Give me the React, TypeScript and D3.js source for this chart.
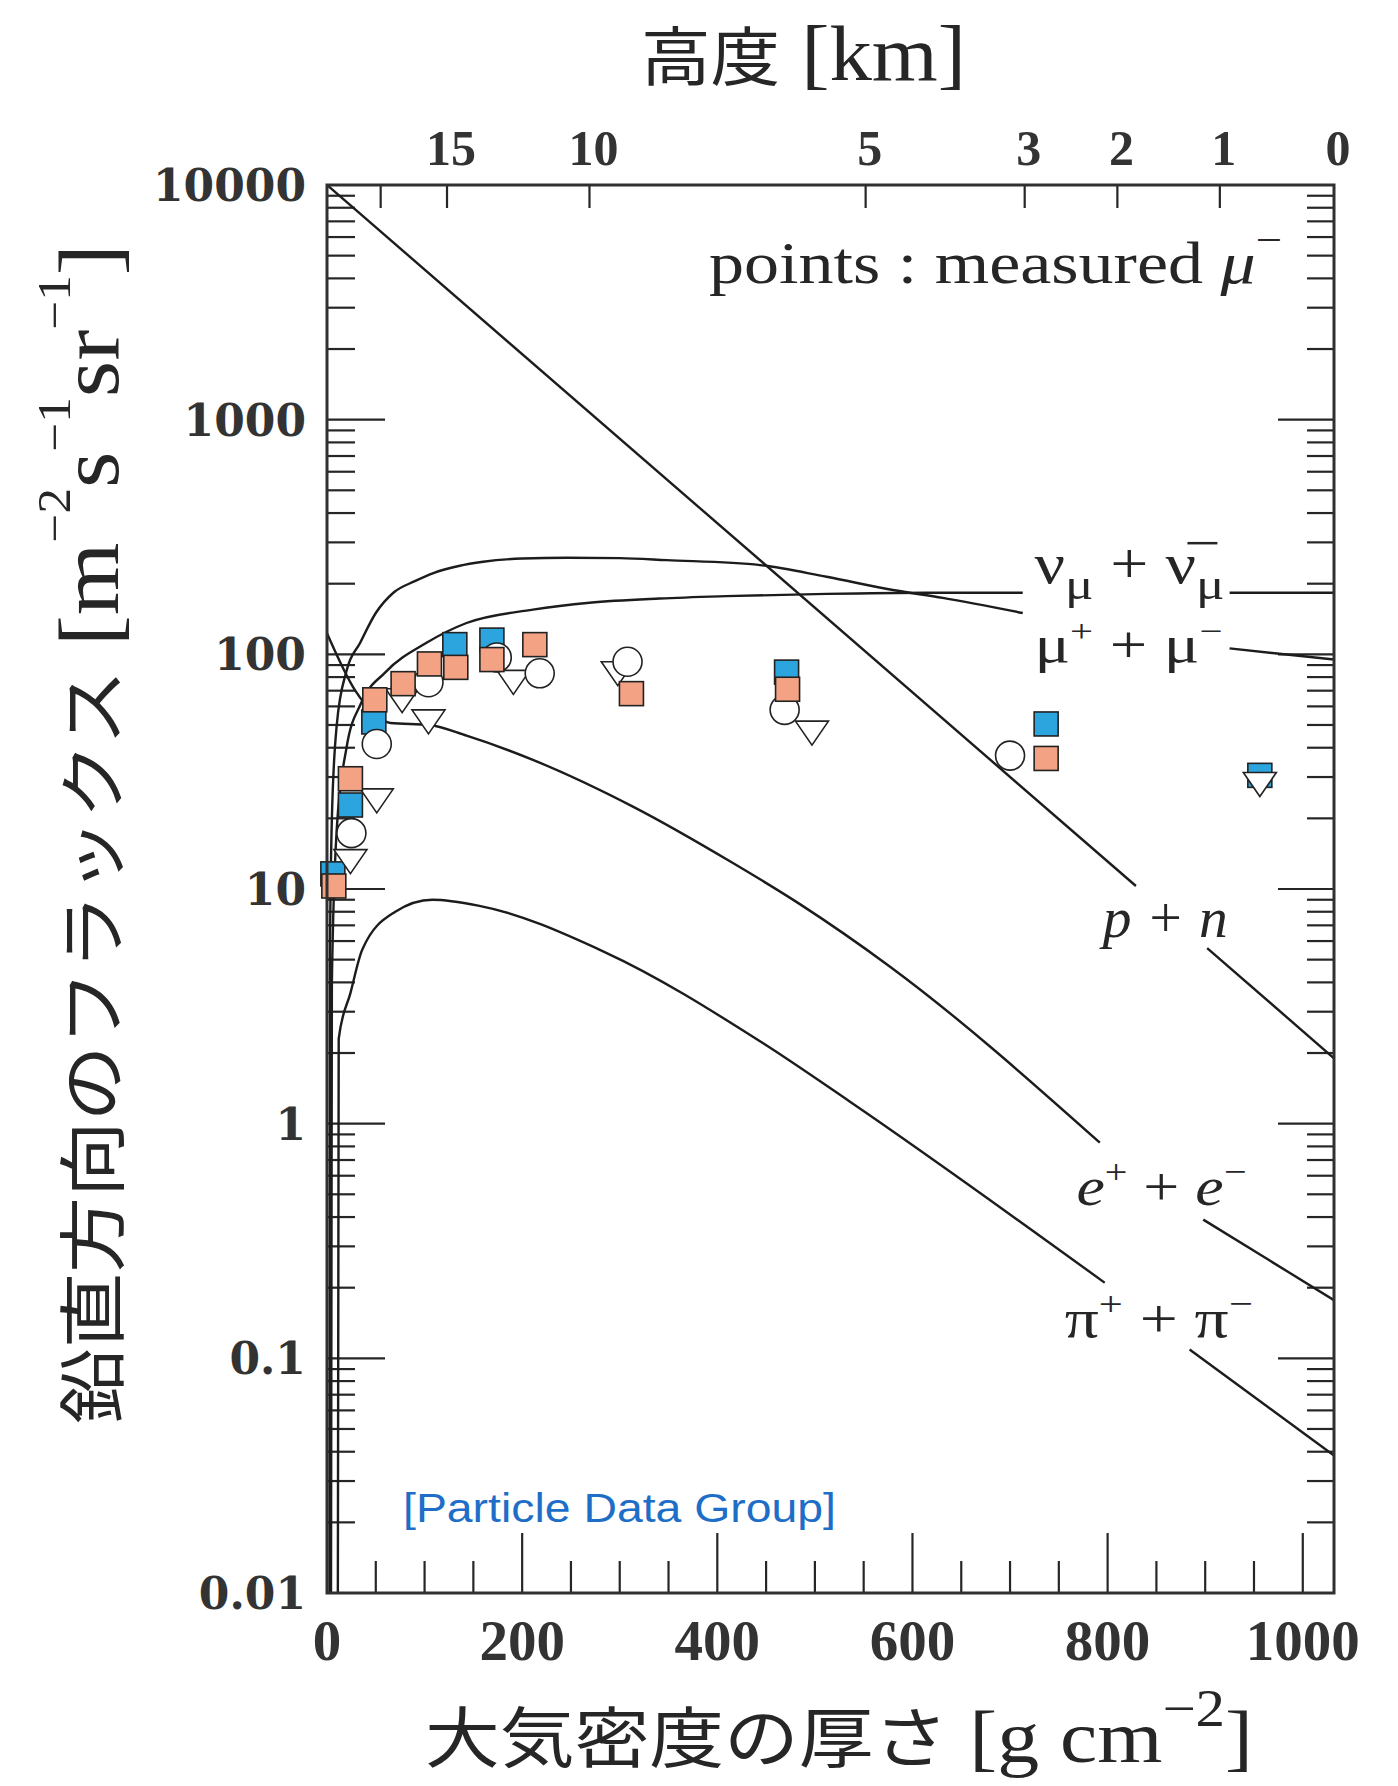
import React, { useEffect, useRef } from 'react';
import * as d3 from 'd3';

const WIDTH = 1398;
const HEIGHT = 1786;
const plot = { left: 327, right: 1334, top: 185, bottom: 1593 };

// bottom axis: atmospheric depth [g cm^-2]
const depthMax = 1032;
const depthLabels = [0, 200, 400, 600, 800, 1000];
// top axis: altitude [km] and the depth where it sits
const altitudeKm = [20, 15, 10, 5, 3, 2, 1, 0];
const altitudeDepth = [55, 123, 269, 552, 715, 810, 915, 1032];
const altitudeShown = [false, true, true, true, true, true, true, true];
// left axis: vertical flux
const fluxLabels = [0.01, 0.1, 1, 10, 100, 1000, 10000];
const fluxLabelText = ['0.01', '0.1', '1', '10', '100', '1000', '10000'];

// model curves [depth, flux], split where the label cuts the line
const nucleons = [
  [[0, 10000], [829, 10.3]],
  [[902, 5.6], [1032, 1.9]],
];
const muons = [
  [[2.5, 0.005], [3, 5], [5, 20], [10, 50], [20, 85], [34, 112], [50, 150], [68, 183], [90, 205], [109, 222], [135, 238], [160, 248], [200, 256], [246, 258], [300, 257], [348, 252], [444, 240], [512, 214], [580, 188], [631, 174], [713, 150]],
  [[925, 106], [1032, 95]],
];
const neutrinos = [
  [[4, 0.005], [5, 4], [10, 18], [20, 40], [35, 62], [60, 84], [102, 112], [143, 136], [211, 155], [269, 166], [341, 173], [409, 177], [512, 181], [614, 183], [713, 183]],
  [[925, 183], [1032, 183]],
];
const electrons = [
  [[0, 123], [29, 70], [48, 56], [65, 51], [105, 50], [143, 45], [211, 35.5], [313, 22.5], [416, 12.9], [485, 8.6], [576, 4.7], [792, 0.83]],
  [[898, 0.39], [1032, 0.177]],
];
const pions = [
  [[11, 0.005], [12, 2.3], [24, 3.6], [36, 5.5], [70, 8.0], [108, 9.0], [155, 8.5], [284, 5.4], [447, 2.2], [536, 1.24], [797, 0.21]],
  [[884, 0.109], [1032, 0.0385]],
];

// measured mu- points
const muSalmon = [[7, 10.3], [24, 29.5], [49, 64], [78, 75], [105, 91], [132, 88], [169, 95], [213, 110], [312, 68], [472, 71], [737, 36]];
const muBlue = [[6, 11.6], [24, 22.8], [48, 51.5], [131, 110], [169, 115], [471, 84], [737, 50.5], [956, 30.5]];
const muCircle = [[25, 17.3], [51, 41.5], [104, 76], [174, 97], [218, 83], [308, 93], [469, 58], [700, 37]];
const muTriangle = [[24, 13.6], [51, 24.7], [77, 66], [104, 53.6], [191, 79], [298, 86], [497, 48], [956, 29]];

const serif = '"Liberation Serif", "Times New Roman", serif';
const cjk = '"Noto Sans CJK JP", "Noto Sans", sans-serif';
const sans = '"Liberation Sans", Arial, sans-serif';
const ink = '#262626';

type Part = { t: string; size: number; dy?: number; italic?: boolean; font?: string };

// curve labels, anchored in data units
const curveLabels: { depth: number; flux: number; width: number; parts: Part[] }[] = [
  { depth: 725, flux: 201, width: 190, parts: [{ t: 'ν', size: 56 }, { t: 'μ', size: 44, dy: 16 }, { t: ' + ν', size: 56, dy: -16 }, { t: 'μ', size: 44, dy: 16 }] },
  { depth: 725, flux: 93, width: 188, parts: [{ t: 'μ', size: 52 }, { t: '+', size: 32, dy: -20 }, { t: ' + μ', size: 52, dy: 20 }, { t: '−', size: 32, dy: -20 }] },
  { depth: 795, flux: 6.25, width: 125, parts: [{ t: 'p + n', size: 58, italic: true }] },
  { depth: 768, flux: 0.451, width: 170, parts: [{ t: 'e', size: 54, italic: true }, { t: '+', size: 34, dy: -22 }, { t: ' + ', size: 54, dy: 22 }, { t: 'e', size: 54, italic: true }, { t: '−', size: 34, dy: -22 }] },
  { depth: 756, flux: 0.1236, width: 188, parts: [{ t: 'π', size: 54 }, { t: '+', size: 34, dy: -22 }, { t: ' + π', size: 54, dy: 22 }, { t: '−', size: 34, dy: -22 }] },
];

function addText(parent: any, parts: Part[], x: number, y: number, width?: number, fill = ink) {
  const t = parent.append('text').attr('x', x).attr('y', y).attr('fill', fill).attr('font-family', serif);
  if (width) t.attr('textLength', width).attr('lengthAdjust', 'spacingAndGlyphs');
  parts.forEach((p) => {
    const s = t.append('tspan').attr('font-size', p.size).text(p.t);
    if (p.dy) s.attr('dy', p.dy);
    if (p.italic) s.attr('font-style', 'italic');
    if (p.font) s.attr('font-family', p.font);
  });
  return t;
}

const App = () => {
  const svgRef = useRef<SVGSVGElement>(null);

  useEffect(() => {
    const svg = d3.select(svgRef.current);
    svg.selectAll('*').remove();

    const x = d3.scaleLinear().domain([0, depthMax]).range([plot.left, plot.right]);
    const y = d3.scaleLog().domain([0.01, 10000]).range([plot.bottom, plot.top]);

    svg.append('rect').attr('width', WIDTH).attr('height', HEIGHT).attr('fill', '#fff');
    svg.append('defs').append('clipPath').attr('id', 'plotClip')
      .append('rect')
      .attr('x', plot.left).attr('y', plot.top)
      .attr('width', plot.right - plot.left).attr('height', plot.bottom - plot.top);

    // ticks
    const ticks = svg.append('g').attr('stroke', ink).attr('stroke-width', 2.2);
    y.ticks().forEach((v) => {
      const lg = Math.log10(v);
      const major = Math.abs(lg - Math.round(lg)) < 1e-6;
      const yy = y(v);
      ticks.append('line').attr('x1', plot.left).attr('x2', plot.left + (major ? 58 : 28)).attr('y1', yy).attr('y2', yy);
      ticks.append('line').attr('x1', plot.right).attr('x2', plot.right - (major ? 56 : 27)).attr('y1', yy).attr('y2', yy);
    });
    d3.range(50, 1001, 50).forEach((d) => {
      const major = d % 200 === 0;
      ticks.append('line').attr('x1', x(d)).attr('x2', x(d))
        .attr('y1', plot.bottom).attr('y2', plot.bottom - (major ? 60 : 32));
    });
    altitudeDepth.forEach((d) => {
      if (d >= depthMax) return;
      ticks.append('line').attr('x1', x(d)).attr('x2', x(d))
        .attr('y1', plot.top).attr('y2', plot.top + 23);
    });

    // curves
    const line = d3.line<number[]>().x((d) => x(d[0])).y((d) => y(d[1])).curve(d3.curveMonotoneX);
    const curves = svg.append('g').attr('clip-path', 'url(#plotClip)')
      .attr('fill', 'none').attr('stroke', '#1c1c1c').attr('stroke-width', 2.4);
    [nucleons, muons, neutrinos, electrons, pions].forEach((curve) => {
      curve.forEach((piece) => curves.append('path').attr('d', line(piece as number[][])));
    });

    // measured points
    const pts = svg.append('g').attr('stroke', '#222').attr('stroke-width', 1.6);
    muBlue.forEach(([d, v]) => {
      pts.append('rect').attr('x', x(d) - 12).attr('y', y(v) - 12).attr('width', 24).attr('height', 24).attr('fill', '#2ca4de');
    });
    muTriangle.forEach(([d, v]) => {
      const cx = x(d), cy = y(v), w = 33, h = 24;
      pts.append('path')
        .attr('d', `M${cx - w / 2},${cy - h / 3}L${cx + w / 2},${cy - h / 3}L${cx},${cy + (2 * h) / 3}Z`)
        .attr('fill', '#fff');
    });
    muCircle.forEach(([d, v]) => {
      pts.append('circle').attr('cx', x(d)).attr('cy', y(v)).attr('r', 14.5).attr('fill', '#fff');
    });
    muSalmon.forEach(([d, v]) => {
      pts.append('rect').attr('x', x(d) - 12).attr('y', y(v) - 12).attr('width', 24).attr('height', 24).attr('fill', '#f3a283');
    });

    // frame
    svg.append('rect')
      .attr('x', plot.left).attr('y', plot.top)
      .attr('width', plot.right - plot.left).attr('height', plot.bottom - plot.top)
      .attr('fill', 'none').attr('stroke', '#303030').attr('stroke-width', 3);

    // tick labels
    fluxLabels.forEach((v, i) => {
      svg.append('text').attr('x', 306).attr('y', y(v) + 16)
        .attr('text-anchor', 'end').attr('font-family', '"DejaVu Serif", serif')
        .attr('font-weight', 'bold').attr('font-size', 44).attr('fill', '#333')
        .text(fluxLabelText[i]);
    });
    depthLabels.forEach((d) => {
      svg.append('text').attr('x', x(d)).attr('y', 1660)
        .attr('text-anchor', 'middle').attr('font-family', serif)
        .attr('font-weight', 'bold').attr('font-size', 57).attr('fill', '#333')
        .text(d);
    });
    altitudeKm.forEach((km, i) => {
      if (!altitudeShown[i]) return;
      svg.append('text').attr('x', x(altitudeDepth[i]) + 4).attr('y', 165)
        .attr('text-anchor', 'middle').attr('font-family', serif)
        .attr('font-weight', 'bold').attr('font-size', 50).attr('fill', '#333')
        .text(km);
    });

    // curve labels
    curveLabels.forEach((lab, i) => {
      const lx = x(lab.depth), ly = y(lab.flux);
      addText(svg, lab.parts, lx, ly, lab.width);
      if (i === 0) {
        // bar of the anti-neutrino
        svg.append('line').attr('x1', lx + 153).attr('x2', lx + 183)
          .attr('y1', ly - 40).attr('y2', ly - 40).attr('stroke', ink).attr('stroke-width', 2.5);
      }
    });

    addText(svg, [{ t: 'points : measured ', size: 60 }, { t: 'μ', size: 60, italic: true }, { t: '−', size: 40, dy: -30 }], 709, 283, 573);

    // titles
    addText(svg, [{ t: '高度', size: 64, font: cjk }, { t: ' [km]', size: 78 }], 641, 80, 325);
    addText(svg, [
      { t: '大気密度の厚さ', size: 66, font: cjk },
      { t: ' [g cm', size: 74 },
      { t: '−2', size: 52, dy: -36 },
      { t: ']', size: 74, dy: 36 },
    ], 425, 1762, 828);
    const yTitle = svg.append('g').attr('transform', 'translate(118,1424) rotate(-90)');
    addText(yTitle, [
      { t: '鉛直方向のフラックス', size: 68, font: cjk },
      { t: ' [m', size: 84 },
      { t: '−2', size: 46, dy: -48 },
      { t: 's', size: 84, dy: 48 },
      { t: '−1', size: 46, dy: -48 },
      { t: 'sr', size: 84, dy: 48 },
      { t: '−1', size: 46, dy: -48 },
      { t: ']', size: 84, dy: 48 },
    ], 0, 0, 1180);

    addText(svg, [{ t: '[Particle Data Group]', size: 40, font: sans }], 403, 1522, 433, '#1e6ec8');
  }, []);

  return (
    <svg
      ref={svgRef}
      width={WIDTH}
      height={HEIGHT}
      style={{ position: 'absolute', left: 0, top: 0, display: 'block' }}
    />
  );
};

export default App;
